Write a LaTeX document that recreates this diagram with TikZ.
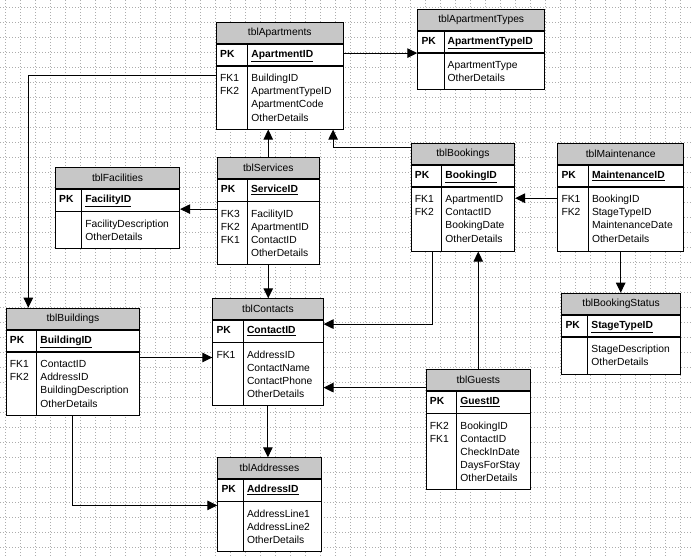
\documentclass[tikz,border=0pt]{standalone}
\usepackage{fontspec}
\setmainfont{Liberation Sans}
\usetikzlibrary{arrows.meta}

\newcommand{\erdfont}{\fontsize{10.3}{13.2}\selectfont}

\tikzset{
  gridline/.style={draw=black!32, line width=0.6pt, dash pattern=on 1pt off 2pt},
  tblhead/.style={draw, line width=0.8pt, fill=black!22, minimum height=21pt, inner sep=0pt, font=\erdfont},
  tblrow/.style={draw, line width=0.8pt, fill=white, inner sep=0pt},
  keytxt/.style={anchor=base west, inner sep=0pt, font=\erdfont},
  coltxt/.style={anchor=north west, inner sep=0pt, align=left, font=\erdfont},
  fk/.style={line width=1pt, -{Triangle[length=10pt,width=9.5pt]}},
}

% table: id, top left, width, divider offset, body height, title, key, fk column, fields
\newcommand{\erdtable}[9]{%
  \node[tblhead, minimum width=#3pt, anchor=north west] (#1-h) at #2 {#6};
  \node[tblrow, minimum width=#3pt, minimum height=21.5pt, anchor=north west] (#1-k) at (#1-h.south west) {};
  \node[tblrow, minimum width=#3pt, minimum height=#5pt, anchor=north west] (#1-b) at (#1-k.south west) {};
  \draw[line width=0.8pt] ([xshift=#4pt]#1-k.north west) -- ([xshift=#4pt]#1-b.south west);
  \node[keytxt] (#1-pk) at ([xshift=4pt, yshift=-2.6pt]#1-k.west) {\textbf{PK}};
  \node[keytxt] (#1-id) at ([xshift=#4pt+3.5pt, yshift=-2.6pt]#1-k.west) {\textbf{\underline{#7}}};
  \node[coltxt] (#1-fk) at ([xshift=4pt, yshift=-6.2pt]#1-b.north west) {\strut#8};
  \node[coltxt] (#1-fd) at ([xshift=#4pt+3.5pt, yshift=-6.2pt]#1-b.north west) {\strut#9};
}

\begin{document}
\begin{tikzpicture}[x=1pt,y=-1pt]
    \useasboundingbox (0,0) rectangle (691,557);
    \fill[white] (0,0) rectangle (691,557);

    % Grid
    \foreach \k in {0,...,45} \draw[gridline] ({5+15*\k},0) -- ({5+15*\k},557);
    \foreach \k in {0,...,36} \draw[gridline] (0,{7.3+15*\k}) -- (691,{7.3+15*\k});

    % Tables
    \erdtable{apts}{(216,21.7)}{126.7}{31.7}{63}{tblApartments}{ApartmentID}{FK1\\FK2}{BuildingID\\ApartmentTypeID\\ApartmentCode\\OtherDetails}
    \erdtable{aptypes}{(417.3,9)}{127}{26.7}{36}{tblApartmentTypes}{ApartmentTypeID}{}{ApartmentType\\OtherDetails}
    \erdtable{svcs}{(216.7,157.3)}{102.3}{30.6}{63}{tblServices}{ServiceID}{FK3\\FK2\\FK1}{FacilityID\\ApartmentID\\ContactID\\OtherDetails}
    \erdtable{facs}{(55,167.3)}{124.3}{26.7}{37}{tblFacilities}{FacilityID}{}{FacilityDescription\\OtherDetails}
    \erdtable{bldgs}{(5.7,307.7)}{133.6}{31}{63}{tblBuildings}{BuildingID}{FK1\\FK2}{ContactID\\AddressID\\BuildingDescription\\OtherDetails}
    \erdtable{ctcs}{(212.3,298.3)}{110.4}{31}{63}{tblContacts}{ContactID}{FK1}{AddressID\\ContactName\\ContactPhone\\OtherDetails}
    \erdtable{addrs}{(217.3,457.3)}{103.4}{26}{50}{tblAddresses}{AddressID}{}{AddressLine1\\AddressLine2\\OtherDetails}
    \erdtable{bkgs}{(410.7,142.7)}{103.6}{31}{64}{tblBookings}{BookingID}{FK1\\FK2}{ApartmentID\\ContactID\\BookingDate\\OtherDetails}
    \erdtable{mnts}{(557.3,142.7)}{126}{31}{64}{tblMaintenance}{MaintenanceID}{FK1\\FK2}{BookingID\\StageTypeID\\MaintenanceDate\\OtherDetails}
    \erdtable{bstat}{(561.3,292.7)}{118.7}{26.4}{37}{tblBookingStatus}{StageTypeID}{}{StageDescription\\OtherDetails}
    \erdtable{gsts}{(425.7,369.3)}{104.3}{31}{76}{tblGuests}{GuestID}{FK2\\FK1}{BookingID\\ContactID\\CheckInDate\\DaysForStay\\OtherDetails}

    % Links
    \draw[fk] (apts-k.east |- aptypes-k.south) -- (aptypes-k.south west);
    \draw[fk] ([yshift=-10pt]apts-b.north west) -| ([xshift=22.6pt]bldgs-h.north west);
    \draw[fk] (svcs-h.north) -- (svcs-h.north |- apts-b.south);
    \draw[fk] ([yshift=-4.6pt]bkgs-h.north west) -| ([xshift=-10.4pt]apts-b.south east);
    \coordinate (e1) at ([yshift=-7.7pt]svcs-b.north west);
    \draw[fk] (e1) -- (e1 -| facs-b.east);
    \draw[fk] (svcs-b.south) -- (svcs-b.south |- ctcs-h.north);
    \coordinate (g1) at ([yshift=-5.7pt]bldgs-b.north east);
    \draw[fk] (g1) -- (g1 -| ctcs-b.west);
    \draw[fk] (bldgs-b.south) |- ([yshift=-4pt]addrs-b.north west);
    \draw[fk] (ctcs-b.south) -- (ctcs-b.south |- addrs-h.north);
    \draw[fk] ([xshift=21.6pt]bkgs-b.south west) |- ([yshift=-4pt]ctcs-k.north east);
    \coordinate (k1) at ([yshift=3.5pt]gsts-h.south west);
    \draw[fk] (k1) -- (k1 -| ctcs-b.east);
    \draw[fk] (gsts-h.north) -- (gsts-h.north |- bkgs-b.south);
    \coordinate (m1) at ([yshift=-11.4pt]mnts-b.north west);
    \draw[fk] (m1) -- (m1 -| bkgs-b.east);
    \draw[fk] (mnts-b.south) -- (mnts-b.south |- bstat-h.north);

\end{tikzpicture}
\end{document}
